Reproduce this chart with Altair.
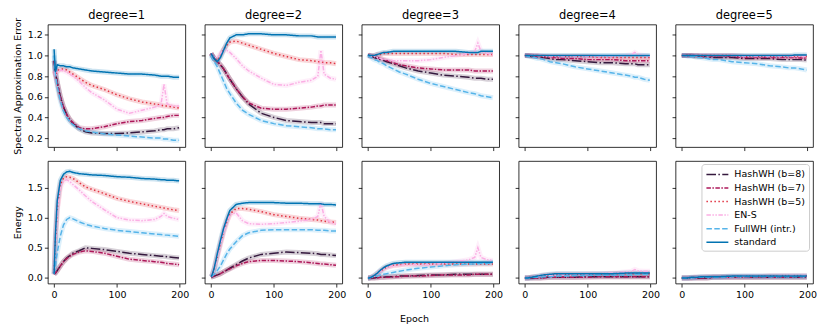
import altair as alt
import pandas as pd

EPOCHS = [0, 2, 5, 10, 15, 20, 25, 30, 40, 50, 60, 80, 100, 120, 140, 160, 170, 175, 180, 190, 199]
SERIES = ["HashWH (b=8)", "HashWH (b=7)", "HashWH (b=5)", "EN-S", "FullWH (intr.)", "standard"]
COLORS = ["#35193e", "#ad1759", "#e13342", "#fbafe4", "#56b4e9", "#0173b2"]
DASHES = [[9.6, 2.4, 1.5, 2.4], [4.5, 1.5, 1.5, 1.5], [1.5, 2.5],
          [4.5, 1.5, 1.5, 1.5, 1.5, 1.5], [5.5, 2.4], [1, 0]]
DEGREES = [1, 2, 3, 4, 5]
X_TICKS = [0, 100, 200]
SAE_TICKS = [0.2, 0.4, 0.6, 0.8, 1.0, 1.2]
ENERGY_TICKS = [0.0, 0.5, 1.0, 1.5]

# ---- Spectral Approximation Error (top row) ----
SAE_DEG1 = {
    "HashWH (b=8)":   [0.95, 0.84, 0.74, 0.60, 0.50, 0.43, 0.38, 0.34, 0.29, 0.26, 0.25, 0.245, 0.245, 0.25, 0.26, 0.27, 0.28, 0.28, 0.29, 0.29, 0.30],
    "HashWH (b=7)":   [0.95, 0.84, 0.74, 0.60, 0.50, 0.43, 0.38, 0.35, 0.30, 0.29, 0.29, 0.31, 0.34, 0.36, 0.37, 0.39, 0.40, 0.40, 0.41, 0.42, 0.42],
    "HashWH (b=5)":   [0.85, 0.82, 0.85, 0.87, 0.87, 0.86, 0.84, 0.82, 0.78, 0.74, 0.71, 0.67, 0.62, 0.58, 0.55, 0.53, 0.52, 0.51, 0.51, 0.50, 0.49],
    "EN-S":           [0.85, 0.80, 0.84, 0.86, 0.85, 0.84, 0.82, 0.80, 0.75, 0.69, 0.64, 0.57, 0.48, 0.44, 0.47, 0.50, 0.52, 0.72, 0.53, 0.51, 0.51],
    "FullWH (intr.)": [1.00, 0.82, 0.70, 0.56, 0.46, 0.40, 0.36, 0.33, 0.29, 0.27, 0.26, 0.24, 0.23, 0.22, 0.21, 0.20, 0.20, 0.19, 0.19, 0.18, 0.18],
    "standard":       [1.06, 0.84, 0.91, 0.90, 0.90, 0.89, 0.89, 0.88, 0.87, 0.86, 0.85, 0.84, 0.83, 0.82, 0.82, 0.81, 0.80, 0.80, 0.80, 0.79, 0.79],
}
SAE_DEG2 = {
    "HashWH (b=8)":   [1.02, 1.00, 0.97, 0.94, 0.91, 0.87, 0.82, 0.77, 0.68, 0.60, 0.53, 0.44, 0.40, 0.37, 0.36, 0.35, 0.35, 0.35, 0.34, 0.34, 0.34],
    "HashWH (b=7)":   [1.02, 1.00, 0.97, 0.94, 0.91, 0.87, 0.82, 0.77, 0.68, 0.60, 0.54, 0.49, 0.48, 0.48, 0.49, 0.50, 0.51, 0.51, 0.52, 0.52, 0.52],
    "HashWH (b=5)":   [1.02, 1.00, 0.97, 0.95, 1.00, 1.06, 1.10, 1.13, 1.14, 1.12, 1.10, 1.06, 1.02, 0.99, 0.96, 0.95, 0.94, 0.94, 0.93, 0.93, 0.92],
    "EN-S":           [1.02, 1.00, 0.98, 0.98, 1.02, 1.05, 1.05, 1.03, 0.97, 0.90, 0.85, 0.78, 0.72, 0.71, 0.74, 0.76, 0.80, 1.05, 0.82, 0.78, 0.77],
    "FullWH (intr.)": [1.00, 0.97, 0.94, 0.89, 0.82, 0.75, 0.68, 0.63, 0.54, 0.47, 0.43, 0.37, 0.34, 0.32, 0.31, 0.30, 0.29, 0.29, 0.29, 0.28, 0.28],
    "standard":       [1.02, 1.00, 0.97, 0.94, 0.98, 1.05, 1.12, 1.17, 1.20, 1.20, 1.21, 1.21, 1.20, 1.20, 1.19, 1.19, 1.18, 1.18, 1.18, 1.18, 1.18],
}
SAE_DEG3 = {
    "HashWH (b=8)":   [1.00, 1.00, 0.99, 0.98, 0.97, 0.96, 0.95, 0.94, 0.92, 0.90, 0.88, 0.85, 0.83, 0.81, 0.80, 0.79, 0.78, 0.78, 0.78, 0.77, 0.77],
    "HashWH (b=7)":   [1.00, 1.00, 0.99, 0.99, 0.98, 0.97, 0.96, 0.95, 0.93, 0.91, 0.90, 0.88, 0.87, 0.86, 0.86, 0.86, 0.85, 0.85, 0.85, 0.85, 0.85],
    "HashWH (b=5)":   [1.00, 1.00, 1.00, 1.00, 1.01, 1.01, 1.02, 1.02, 1.02, 1.02, 1.02, 1.02, 1.02, 1.02, 1.01, 1.01, 1.01, 1.01, 1.01, 1.01, 1.01],
    "EN-S":           [1.00, 1.00, 0.99, 0.99, 0.98, 0.97, 0.96, 0.96, 0.95, 0.95, 0.95, 0.95, 0.96, 0.98, 1.00, 1.02, 1.04, 1.12, 1.04, 1.02, 1.01],
    "FullWH (intr.)": [1.00, 0.99, 0.98, 0.96, 0.95, 0.93, 0.92, 0.90, 0.87, 0.84, 0.82, 0.77, 0.73, 0.70, 0.67, 0.64, 0.63, 0.62, 0.61, 0.60, 0.59],
    "standard":       [1.01, 1.00, 1.00, 1.00, 1.01, 1.02, 1.03, 1.03, 1.04, 1.04, 1.04, 1.04, 1.04, 1.04, 1.04, 1.03, 1.03, 1.03, 1.04, 1.04, 1.04],
}
SAE_DEG4 = {
    "HashWH (b=8)":   [1.00, 1.00, 1.00, 0.99, 0.99, 0.99, 0.98, 0.98, 0.97, 0.96, 0.96, 0.95, 0.94, 0.93, 0.93, 0.92, 0.92, 0.92, 0.91, 0.91, 0.91],
    "HashWH (b=7)":   [1.00, 1.00, 1.00, 1.00, 0.99, 0.99, 0.99, 0.99, 0.98, 0.98, 0.97, 0.97, 0.96, 0.96, 0.96, 0.95, 0.95, 0.95, 0.95, 0.95, 0.95],
    "HashWH (b=5)":   [1.00, 1.00, 1.00, 1.00, 1.00, 1.00, 0.99, 0.99, 0.99, 0.99, 0.99, 0.99, 0.99, 0.98, 0.98, 0.98, 0.98, 0.98, 0.98, 0.98, 0.98],
    "EN-S":           [1.00, 1.00, 1.00, 1.00, 1.00, 1.00, 1.00, 0.99, 0.99, 0.99, 0.99, 0.99, 0.99, 0.99, 0.99, 1.00, 1.01, 1.03, 1.01, 1.00, 0.99],
    "FullWH (intr.)": [1.00, 1.00, 0.99, 0.99, 0.98, 0.97, 0.97, 0.96, 0.94, 0.93, 0.92, 0.89, 0.87, 0.85, 0.83, 0.81, 0.80, 0.79, 0.79, 0.77, 0.76],
    "standard":       [1.00, 1.00, 1.00, 1.00, 1.00, 1.00, 1.00, 1.00, 1.00, 1.00, 1.00, 1.00, 1.00, 1.00, 1.00, 1.00, 1.00, 1.00, 1.00, 1.00, 1.00],
}
SAE_DEG5 = {
    "HashWH (b=8)":   [1.00, 1.00, 1.00, 1.00, 1.00, 0.99, 0.99, 0.99, 0.99, 0.98, 0.98, 0.98, 0.97, 0.97, 0.97, 0.96, 0.96, 0.96, 0.96, 0.96, 0.955],
    "HashWH (b=7)":   [1.00, 1.00, 1.00, 1.00, 1.00, 1.00, 1.00, 0.99, 0.99, 0.99, 0.99, 0.99, 0.98, 0.98, 0.98, 0.98, 0.98, 0.98, 0.98, 0.975, 0.975],
    "HashWH (b=5)":   [1.00, 1.00, 1.00, 1.00, 1.00, 1.00, 1.00, 1.00, 1.00, 1.00, 1.00, 1.00, 0.99, 0.99, 0.99, 0.99, 0.99, 0.99, 0.99, 0.99, 0.99],
    "EN-S":           [1.00, 1.00, 1.00, 1.00, 1.00, 1.00, 1.00, 1.00, 1.00, 1.00, 1.00, 1.00, 0.99, 0.99, 0.99, 0.99, 0.99, 0.99, 0.99, 0.99, 0.99],
    "FullWH (intr.)": [1.00, 1.00, 1.00, 0.99, 0.99, 0.99, 0.98, 0.98, 0.97, 0.96, 0.96, 0.94, 0.93, 0.92, 0.90, 0.89, 0.88, 0.88, 0.88, 0.87, 0.86],
    "standard":       [1.00, 1.00, 1.00, 1.00, 1.00, 1.00, 1.00, 1.00, 1.00, 1.00, 1.00, 1.00, 1.00, 1.00, 1.00, 1.00, 1.00, 1.00, 1.005, 1.005, 1.005],
}

# ---- Energy (bottom row) ----
EN_DEG1 = {
    "HashWH (b=8)":   [0.06, 0.08, 0.12, 0.20, 0.27, 0.33, 0.37, 0.41, 0.45, 0.50, 0.49, 0.47, 0.44, 0.41, 0.39, 0.37, 0.36, 0.36, 0.35, 0.34, 0.33],
    "HashWH (b=7)":   [0.06, 0.08, 0.12, 0.20, 0.27, 0.32, 0.36, 0.39, 0.43, 0.45, 0.44, 0.41, 0.36, 0.31, 0.29, 0.27, 0.26, 0.25, 0.24, 0.23, 0.22],
    "HashWH (b=5)":   [0.06, 0.60, 1.15, 1.55, 1.66, 1.68, 1.67, 1.65, 1.58, 1.51, 1.47, 1.40, 1.32, 1.27, 1.23, 1.19, 1.17, 1.16, 1.15, 1.13, 1.12],
    "EN-S":           [0.06, 0.55, 1.10, 1.50, 1.60, 1.63, 1.60, 1.55, 1.46, 1.36, 1.27, 1.13, 1.00, 0.96, 0.95, 0.97, 1.02, 1.07, 1.02, 0.99, 0.97],
    "FullWH (intr.)": [0.06, 0.20, 0.42, 0.70, 0.88, 0.97, 1.00, 0.98, 0.93, 0.89, 0.86, 0.82, 0.79, 0.77, 0.75, 0.73, 0.72, 0.71, 0.71, 0.70, 0.69],
    "standard":       [0.07, 0.70, 1.28, 1.62, 1.72, 1.76, 1.77, 1.75, 1.73, 1.72, 1.71, 1.70, 1.68, 1.67, 1.65, 1.64, 1.63, 1.63, 1.62, 1.62, 1.61],
}
EN_DEG2 = {
    "HashWH (b=8)":   [0.02, 0.02, 0.03, 0.05, 0.07, 0.10, 0.13, 0.16, 0.22, 0.28, 0.33, 0.39, 0.41, 0.43, 0.42, 0.41, 0.40, 0.39, 0.39, 0.38, 0.37],
    "HashWH (b=7)":   [0.02, 0.02, 0.03, 0.05, 0.07, 0.10, 0.13, 0.15, 0.20, 0.24, 0.27, 0.29, 0.29, 0.28, 0.27, 0.25, 0.24, 0.23, 0.23, 0.22, 0.21],
    "HashWH (b=5)":   [0.02, 0.05, 0.14, 0.36, 0.57, 0.77, 0.93, 1.06, 1.15, 1.15, 1.14, 1.10, 1.05, 1.02, 0.99, 0.97, 0.96, 0.95, 0.94, 0.93, 0.92],
    "EN-S":           [0.02, 0.05, 0.13, 0.34, 0.55, 0.75, 0.92, 1.05, 1.08, 0.95, 0.90, 0.89, 0.90, 0.92, 0.94, 0.97, 1.02, 1.25, 1.02, 0.92, 0.89],
    "FullWH (intr.)": [0.02, 0.03, 0.06, 0.12, 0.20, 0.30, 0.40, 0.48, 0.60, 0.70, 0.75, 0.79, 0.80, 0.80, 0.80, 0.80, 0.79, 0.79, 0.79, 0.78, 0.78],
    "standard":       [0.02, 0.06, 0.16, 0.40, 0.62, 0.82, 0.98, 1.12, 1.22, 1.24, 1.25, 1.25, 1.25, 1.24, 1.24, 1.23, 1.23, 1.23, 1.22, 1.22, 1.21],
}
EN_DEG3 = {
    "HashWH (b=8)":   [0.00, 0.00, 0.00, 0.00, 0.01, 0.01, 0.01, 0.02, 0.02, 0.03, 0.03, 0.04, 0.05, 0.05, 0.06, 0.06, 0.06, 0.06, 0.06, 0.06, 0.06],
    "HashWH (b=7)":   [0.00, 0.00, 0.00, 0.00, 0.00, 0.01, 0.01, 0.01, 0.02, 0.02, 0.03, 0.03, 0.04, 0.05, 0.05, 0.05, 0.06, 0.06, 0.06, 0.06, 0.06],
    "HashWH (b=5)":   [0.00, 0.00, 0.01, 0.03, 0.07, 0.11, 0.15, 0.18, 0.21, 0.22, 0.23, 0.23, 0.23, 0.23, 0.23, 0.23, 0.23, 0.23, 0.23, 0.23, 0.23],
    "EN-S":           [0.00, 0.00, 0.01, 0.03, 0.07, 0.11, 0.14, 0.17, 0.20, 0.21, 0.22, 0.22, 0.22, 0.24, 0.27, 0.30, 0.34, 0.50, 0.34, 0.30, 0.29],
    "FullWH (intr.)": [0.00, 0.00, 0.01, 0.02, 0.03, 0.05, 0.06, 0.07, 0.09, 0.11, 0.13, 0.16, 0.18, 0.20, 0.22, 0.23, 0.23, 0.24, 0.24, 0.24, 0.25],
    "standard":       [0.00, 0.00, 0.01, 0.04, 0.08, 0.13, 0.17, 0.20, 0.24, 0.25, 0.26, 0.26, 0.26, 0.26, 0.26, 0.26, 0.26, 0.26, 0.26, 0.26, 0.26],
}
EN_DEG4 = {
    "HashWH (b=8)":   [0.00, 0.00, 0.00, 0.00, 0.00, 0.00, 0.00, 0.01, 0.01, 0.01, 0.01, 0.01, 0.02, 0.02, 0.02, 0.02, 0.02, 0.02, 0.02, 0.02, 0.02],
    "HashWH (b=7)":   [0.00, 0.00, 0.00, 0.00, 0.00, 0.00, 0.00, 0.00, 0.01, 0.01, 0.01, 0.01, 0.01, 0.02, 0.02, 0.02, 0.02, 0.02, 0.02, 0.02, 0.02],
    "HashWH (b=5)":   [0.00, 0.00, 0.00, 0.01, 0.02, 0.02, 0.03, 0.04, 0.05, 0.06, 0.06, 0.06, 0.06, 0.06, 0.07, 0.07, 0.07, 0.07, 0.07, 0.07, 0.07],
    "EN-S":           [0.00, 0.00, 0.00, 0.01, 0.02, 0.02, 0.03, 0.04, 0.04, 0.05, 0.05, 0.05, 0.06, 0.07, 0.08, 0.10, 0.11, 0.14, 0.12, 0.11, 0.11],
    "FullWH (intr.)": [0.00, 0.00, 0.00, 0.00, 0.01, 0.01, 0.01, 0.02, 0.02, 0.03, 0.03, 0.04, 0.04, 0.05, 0.05, 0.05, 0.05, 0.06, 0.06, 0.06, 0.06],
    "standard":       [0.00, 0.00, 0.00, 0.01, 0.02, 0.03, 0.04, 0.05, 0.06, 0.07, 0.07, 0.07, 0.07, 0.07, 0.07, 0.08, 0.08, 0.08, 0.08, 0.08, 0.08],
}
EN_DEG5 = {
    "HashWH (b=8)":   [0.00, 0.00, 0.00, 0.00, 0.00, 0.00, 0.00, 0.00, 0.00, 0.01, 0.01, 0.01, 0.01, 0.01, 0.01, 0.01, 0.01, 0.01, 0.01, 0.01, 0.01],
    "HashWH (b=7)":   [0.00, 0.00, 0.00, 0.00, 0.00, 0.00, 0.00, 0.00, 0.00, 0.01, 0.01, 0.01, 0.01, 0.01, 0.01, 0.01, 0.01, 0.01, 0.01, 0.01, 0.01],
    "HashWH (b=5)":   [0.00, 0.00, 0.00, 0.00, 0.00, 0.01, 0.01, 0.01, 0.02, 0.02, 0.02, 0.02, 0.02, 0.02, 0.03, 0.03, 0.03, 0.03, 0.03, 0.03, 0.03],
    "EN-S":           [0.00, 0.00, 0.00, 0.00, 0.00, 0.01, 0.01, 0.01, 0.02, 0.02, 0.02, 0.02, 0.03, 0.03, 0.03, 0.04, 0.04, 0.04, 0.04, 0.04, 0.04],
    "FullWH (intr.)": [0.00, 0.00, 0.00, 0.00, 0.00, 0.00, 0.01, 0.01, 0.01, 0.01, 0.01, 0.02, 0.02, 0.02, 0.02, 0.02, 0.02, 0.02, 0.02, 0.02, 0.02],
    "standard":       [0.00, 0.00, 0.00, 0.00, 0.01, 0.01, 0.01, 0.02, 0.02, 0.02, 0.02, 0.03, 0.03, 0.03, 0.03, 0.03, 0.03, 0.03, 0.03, 0.03, 0.03],
}

SAE = [SAE_DEG1, SAE_DEG2, SAE_DEG3, SAE_DEG4, SAE_DEG5]
ENERGY = [EN_DEG1, EN_DEG2, EN_DEG3, EN_DEG4, EN_DEG5]

FONT = "DejaVu Sans"
PW, PH = 138, 123
X_DOMAIN = [-9.95, 208.95]
SAE_DOMAIN = [0.113, 1.30]
EN_DOMAIN = [-0.094, 1.94]

LEGEND = alt.Legend(title=None, orient="none", legendX=656, legendY=140,
                    fillColor="white", strokeColor="#cccccc", padding=4,
                    cornerRadius=3, labelFontSize=9.5, labelFont=FONT,
                    labelColor="black", symbolType="M-1,0L3,0", symbolSize=121,
                    symbolStrokeWidth=1.5, symbolOpacity=1, rowPadding=2.6,
                    labelOffset=16)


def to_frame(d):
    rows = []
    for i, s in enumerate(SERIES):
        for e, v in zip(EPOCHS, d[s]):
            rows.append({"series": s, "idx": i, "epoch": e, "value": v})
    return pd.DataFrame(rows)


def panel(d, top, col, deg):
    df = to_frame(d)
    x = alt.X("epoch:Q",
              scale=alt.Scale(domain=X_DOMAIN, nice=False, zero=False),
              axis=alt.Axis(values=X_TICKS, labels=not top, format="d", title=None))
    if top:
        ytitle = "Spectral Approximation Error" if col == 0 else None
        y = alt.Y("value:Q", scale=alt.Scale(domain=SAE_DOMAIN, nice=False, zero=False),
                  axis=alt.Axis(values=SAE_TICKS, labels=(col == 0), format=".1f", title=ytitle))
    else:
        ytitle = "Energy" if col == 0 else None
        y = alt.Y("value:Q", scale=alt.Scale(domain=EN_DOMAIN, nice=False, zero=False),
                  axis=alt.Axis(values=ENERGY_TICKS, labels=(col == 0), format=".1f", title=ytitle))

    base = alt.Chart(df)
    band = base.mark_line(strokeWidth=5, opacity=0.2, clip=True).encode(
        x=x, y=y,
        stroke=alt.Stroke("idx:N", scale=alt.Scale(domain=list(range(len(SERIES))), range=COLORS),
                          legend=None),
        order="epoch:Q",
    )
    line = base.mark_line(strokeWidth=1.5, clip=True).encode(
        x=x, y=y,
        color=alt.Color("series:N", scale=alt.Scale(domain=SERIES, range=COLORS), legend=LEGEND),
        strokeDash=alt.StrokeDash("series:N", scale=alt.Scale(domain=SERIES, range=DASHES), legend=LEGEND),
        order="epoch:Q",
    )
    layers = [band, line]
    if top:
        lab = alt.Chart(pd.DataFrame({"t": [f"degree={deg}"]})).mark_text(
            font=FONT, fontSize=11.5, color="black", baseline="alphabetic", align="center"
        ).encode(text="t:N", x=alt.value(PW / 2), y=alt.value(-6))
        layers.append(lab)
    return alt.layer(*layers).properties(width=PW, height=PH)


panels = [panel(SAE[i], True, i, DEGREES[i]) for i in range(5)] + \
         [panel(ENERGY[i], False, i, DEGREES[i]) for i in range(5)]

chart = alt.concat(*panels, columns=5, spacing={"row": 14, "column": 19.5}, bounds="flush").properties(
    title=alt.TitleParams("Epoch", orient="bottom", anchor="middle", fontSize=9.5,
                          font=FONT, fontWeight="normal", color="black", offset=15),
    padding={"left": 3, "top": 0, "right": 5, "bottom": 0},
).configure_view(
    stroke="black", strokeWidth=0.8
).configure_axis(
    domain=False, grid=False, ticks=True, tickColor="black", tickWidth=0.8, tickSize=3.5,
    labelFont=FONT, labelFontSize=9.5, labelColor="black", labelPadding=2,
    titleFont=FONT, titleFontSize=9.5, titleFontWeight="normal", titleColor="black",
    titlePadding=5,
)

chart.save("out.html", embed_options={"renderer": "svg", "actions": False})
